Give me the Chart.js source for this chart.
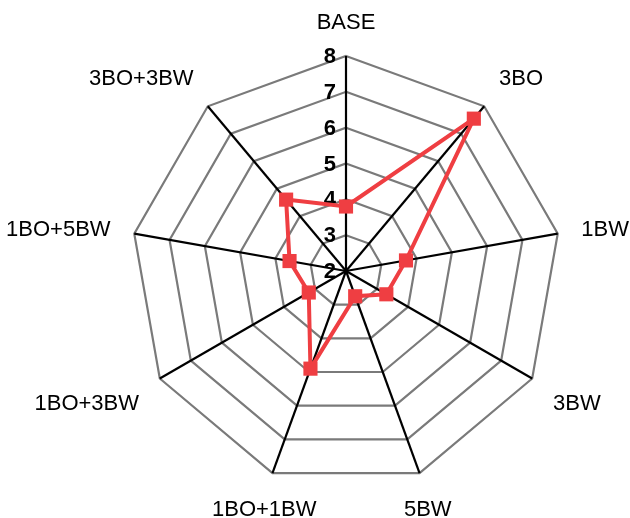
<!DOCTYPE html>
<html>
<head>
<meta charset="utf-8">
<style>
  html, body { margin: 0; padding: 0; background: #ffffff; }
  #wrap { width: 630px; height: 518px; }
</style>
<script src="https://cdn.jsdelivr.net/npm/chart.js@4/dist/chart.umd.min.js"></script>
</head>
<body>
<div id="wrap"><canvas id="radar" width="630" height="518"></canvas></div>
<script>
// Configurations around the axes
const categories = ['BASE', '3BO', '1BW', '3BW', '5BW', '1BO+1BW', '1BO+3BW', '1BO+5BW', '3BO+3BW'];
// Measured values per configuration
const seriesValues = [3.8, 7.55, 3.7, 3.3, 2.75, 4.9, 3.2, 3.6, 4.6];
// Radial scale tick labels
const tickLabels = [2, 3, 4, 5, 6, 7, 8];

const RED = '#EF3E42';
const FONT = '"Liberation Sans", Arial, sans-serif';

const clamp01 = v => Math.max(0, Math.min(1, v));

// Radial tick numbers, right-aligned just left of the vertical spoke, under the data line
const tickLabelPlugin = {
  id: 'tickLabelPlugin',
  beforeDatasetsDraw(chart) {
    const scale = chart.scales.r;
    const ctx = chart.ctx;
    ctx.save();
    ctx.font = 'bold 22px ' + FONT;
    ctx.fillStyle = '#000000';
    ctx.textAlign = 'right';
    ctx.textBaseline = 'middle';
    tickLabels.forEach(v => {
      const d = scale.getDistanceFromCenterForValue(v);
      ctx.fillText(String(v), scale.xCenter - 10, scale.yCenter - d + 1);
    });
    ctx.restore();
  }
};

// Category names placed outside the outer polygon, pushed away from each vertex
const categoryLabelPlugin = {
  id: 'categoryLabelPlugin',
  afterDraw(chart) {
    const scale = chart.scales.r;
    const ctx = chart.ctx;
    const R = scale.drawingArea;
    ctx.save();
    ctx.font = '22px ' + FONT;
    ctx.fillStyle = '#000000';
    ctx.textAlign = 'center';
    ctx.textBaseline = 'middle';
    categories.forEach((name, i) => {
      const p = scale.getPointPosition(i, R);
      const a = (i / categories.length) * Math.PI * 2;
      const s = Math.sin(a), c = Math.cos(a);
      const w = ctx.measureText(name).width;
      const tx = clamp01((Math.abs(s) - 0.35) / 0.3) * Math.sign(s);
      const ty = clamp01((Math.abs(c) - 0.2) / 0.2) * Math.sign(c);
      const x = p.x + 24 * s + (w / 2) * tx;
      const y = p.y - 26 * c - 8 * ty + (c < -0.2 ? 3 : 0);
      ctx.fillText(name, x, y + 1);
    });
    ctx.restore();
  }
};

new Chart(document.getElementById('radar'), {
  type: 'radar',
  data: {
    labels: categories,
    datasets: [{
      data: seriesValues,
      borderColor: RED,
      backgroundColor: 'rgba(0,0,0,0)',
      borderWidth: 4,
      fill: false,
      pointStyle: 'rect',
      pointRadius: 10,
      pointHoverRadius: 10,
      pointBackgroundColor: RED,
      pointBorderColor: RED,
      pointBorderWidth: 0,
      tension: 0
    }]
  },
  options: {
    responsive: false,
    animation: false,
    layout: { padding: { top: 56, bottom: 32, left: 62, right: 0 } },
    plugins: {
      legend: { display: false },
      tooltip: { enabled: false }
    },
    scales: {
      r: {
        min: 2,
        max: 8,
        ticks: { display: false, stepSize: 1 },
        angleLines: { display: true, color: '#000000', lineWidth: 2.2 },
        grid: { color: '#7a7a7a', lineWidth: 2.2 },
        pointLabels: { display: false }
      }
    }
  },
  plugins: [tickLabelPlugin, categoryLabelPlugin]
});
</script>
</body>
</html>
